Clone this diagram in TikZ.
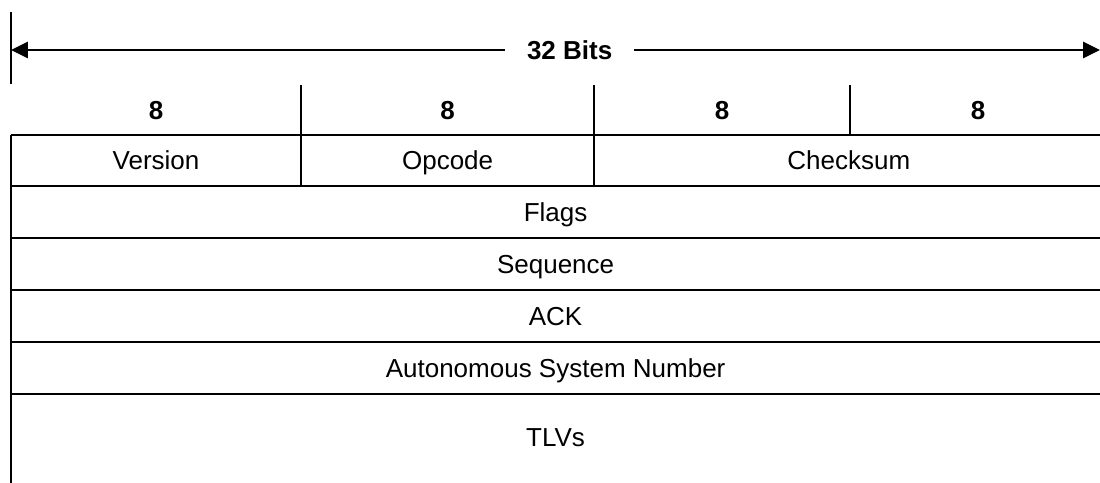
\documentclass[tikz,border=0pt]{standalone}
\usepackage{fontspec}
\setmainfont{Liberation Sans}
\usepackage{tikz}
\usetikzlibrary{positioning,arrows.meta}

\begin{document}
\begin{tikzpicture}[
	field/.style={font=\fontsize{18.5}{21}\selectfont, anchor=center, text height=0.465cm, text depth=0pt},
	bitlbl/.style={field, font=\fontsize{18.5}{21}\selectfont\bfseries},
	rowline/.style={line width=0.07cm},
	hdrtip/.tip={Triangle[length=0.42cm,width=0.4cm]}
	]
				\useasboundingbox (0,0) rectangle (27.5,12.075);
				% Width of the header
				\coordinate []  (T0) at (0.275,11.775)  ;
				\coordinate []  (T1) at (0.275,9.975) ;
				\coordinate []  (W0) at (0.275,10.825)  ;
				\coordinate []  (W1) at (27.5,10.825) ;
				\draw[line width=0.04cm] (T0) -- (T1);
				\path[hdrtip-hdrtip] (W0) edge[line width=0.055cm] node[fill=white, inner xsep=0.55cm, pos=0.513, bitlbl] {32 Bits} (W1);
				% Octet dividers
				\coordinate []  (D1) at (7.525,9.95)  ;
				\coordinate []  (D2) at (14.85,9.95)  ;
				\coordinate []  (D3) at (21.25,9.95)  ;
				\draw[line width=0.055cm] (D1) -- (7.525,7.425);
				\draw[line width=0.055cm] (D2) -- (14.85,7.425);
				\draw[line width=0.055cm] (D3) -- (21.25,8.7);
				\node[bitlbl] (o1) at (3.9,9.325) {8};
				\node[bitlbl] (o2) at (11.19,9.325) {8};
				\node[bitlbl] (o3) at (18.05,9.325) {8};
				\node[bitlbl] (o4) at (24.45,9.325) {8};
				% Rows
				\foreach \y in {8.7,7.425,6.125,4.825,3.525,2.225}
					\draw[rowline] (0.275,\y) -- (27.5,\y);
				\draw[rowline] (0.275,8.7) -- (0.275,0);
				\node[field] (version) at (3.9,8.06) {Version};
				\node[field] (opcode) at (11.19,8.06) {Opcode};
				\node[field] (checksum) at (21.22,8.06) {Checksum};
				\node[field] (flags) at (13.89,6.775) {Flags};
				\node[field] (sequence) at (13.89,5.475) {Sequence};
				\node[field] (ack) at (13.89,4.175) {ACK};
				\node[field] (asn) at (13.89,2.875) {Autonomous System Number};
				\node[field] (tlvs) at (13.89,1.15) {TLVs};
			\end{tikzpicture}
\end{document}
